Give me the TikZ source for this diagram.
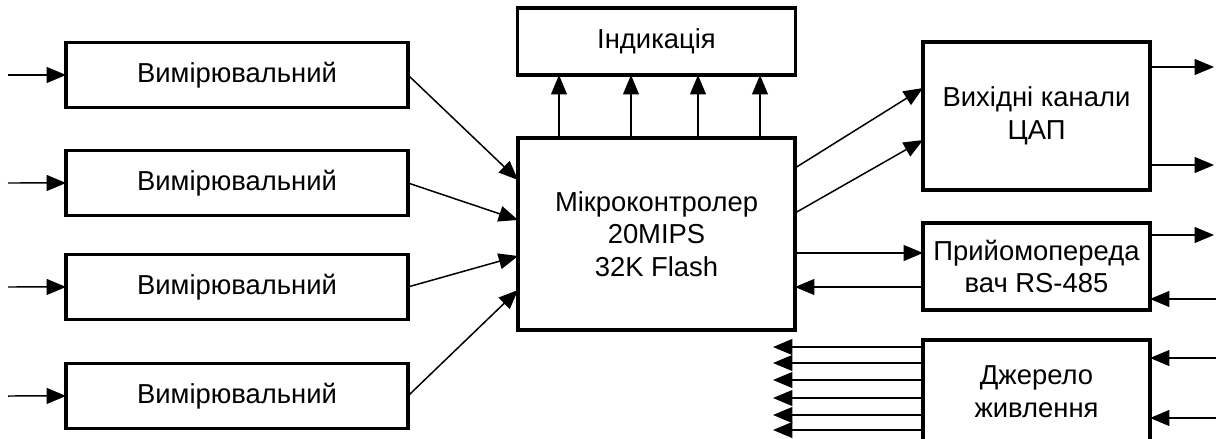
\documentclass[tikz,border=0pt]{standalone}
\usepackage{fontspec}
\setmainfont{Liberation Sans}
\usetikzlibrary{arrows.meta, positioning, calc}

\begin{document}
\begin{tikzpicture}[
  x=0.02cm, y=-0.02cm,
  node distance=0.86cm and 0.4cm,
  box/.style={draw, line width=2.2pt, outer sep=0pt, inner sep=0pt, align=center, font=\fontsize{15.6}{18.5}\selectfont},
  measbox/.style={box, minimum width=6.84cm, minimum height=1.3cm},
  rbox/.style={box, minimum width=4.54cm},
  sig/.style={-{Triangle[length=11pt, width=9pt]}, line width=0.85pt},
]
\useasboundingbox (0,0) rectangle (1216,439);

\node[measbox] (m1) at (237,75) {Вимірювальний};
\node[measbox, below=0.86cm of m1] (m2) {Вимірювальний};
\node[measbox, below=0.78cm of m2] (m3) {Вимірювальний};
\node[measbox, below=0.88cm of m3] (m4) {Вимірювальний};

\node[box, minimum width=5.54cm, minimum height=3.84cm] (micro) at (656.5,234) {Мікроконтролер\\20MIPS\\32K Flash};
\node[box, minimum width=5.56cm, minimum height=1.34cm, above=1.26cm of micro] (ind) {Індикація};

\node[rbox, minimum height=2.96cm] (dac) at (1036.5,116) {Вихідні канали\\ЦАП};
\node[rbox, minimum height=1.74cm, below=0.66cm of dac] (trx) {Прийомопереда\\вач RS-485};
\node[rbox, minimum height=2.08cm, below=0.6cm of trx] (pwr) {Джерело\\живлення};

% inputs of the measuring channels
\foreach \i/\y in {1/75, 2/183, 3/287, 4/396}{
  \coordinate (in\i) at (8,\y);
  \draw[sig] (in\i) -- (m\i.west);
}
\foreach \i/\y in {1/180, 2/220, 3/256, 4/290}{
  \draw[sig] (m\i.east) -- (micro.west |- 0,\y);
}

% indication bus
\foreach \x in {559, 631, 698, 760}{
  \draw[sig] (micro.north -| \x,0) -- (ind.south -| \x,0);
}

% DAC
\draw[sig] (micro.east |- 0,168) -- (dac.west |- 0,88);
\draw[sig] (micro.east |- 0,213) -- (dac.west |- 0,140);
\coordinate (dacA) at (1214,67);
\coordinate (dacB) at (1214,165);
\draw[sig] (dac.east |- dacA) -- (dacA);
\draw[sig] (dac.east |- dacB) -- (dacB);

% RS-485
\draw[sig] (micro.east |- 0,253) -- (trx.west |- 0,253);
\draw[sig] (trx.west |- 0,287) -- (micro.east |- 0,287);
\coordinate (trxout) at (1214,235);
\coordinate (trxin) at (1216,299);
\draw[sig] (trx.east |- trxout) -- (trxout);
\draw[sig] (trxin) -- (trx.east |- trxin);

% power supply
\foreach \i/\y in {1/358, 2/418}{
  \coordinate (pin\i) at (1216,\y);
  \draw[sig] (pin\i) -- (pwr.east |- pin\i);
}
\foreach \i/\y in {1/347, 2/363, 3/380, 4/398, 5/415, 6/430}{
  \coordinate (pout\i) at (773,\y);
  \draw[sig] (pwr.west |- pout\i) -- (pout\i);
}
\end{tikzpicture}
\end{document}
